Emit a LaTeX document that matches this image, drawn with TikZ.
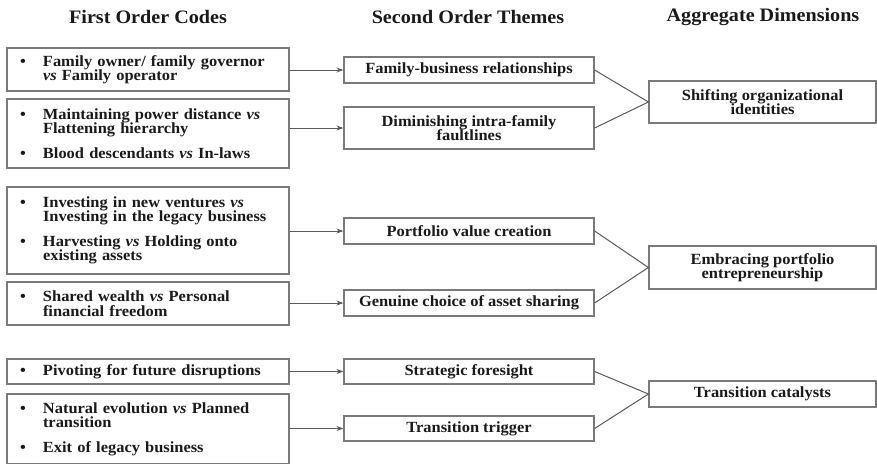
\documentclass[tikz,border=0pt]{standalone}
\usepackage{fontspec}
\setmainfont{Liberation Serif}[FakeStretch=1.06]
\usetikzlibrary{arrows.meta}

\definecolor{framegray}{HTML}{7A7A7A}
\definecolor{linkgray}{HTML}{5A5A5A}
\definecolor{inkblack}{HTML}{1A1A1A}

% one bulleted entry with a hanging indent
\newcommand{\codeitem}[1]{\hangindent=23pt\hangafter=1\noindent\makebox[23pt][l]{\textbullet}#1\par}
\newcommand{\versus}{\textit{vs}}

\begin{document}
\begin{tikzpicture}[x=1pt,y=-1pt,
  bodyfont/.style={font=\fontsize{15.5}{14.5}\selectfont\bfseries},
  header/.style={font=\fontsize{19}{20}\selectfont\bfseries, text=inkblack, inner sep=0pt},
  codebox/.style={draw=framegray, line width=1.2pt, bodyfont, text=inkblack,
    text width=256pt, inner xsep=13pt, inner ysep=0pt, align=left,
    minimum height=#1, execute at begin node={\setlength{\parskip}{10pt}\hyphenpenalty=10000\exhyphenpenalty=10000}},
  themebox/.style={draw=framegray, line width=1.2pt, bodyfont, text=inkblack,
    minimum width=250pt, minimum height=#1, inner sep=0pt, align=center},
  dimbox/.style={draw=framegray, line width=1.2pt, bodyfont, text=inkblack,
    minimum width=227pt, minimum height=#1, inner sep=0pt, align=center},
  feed/.style={draw=linkgray, line width=1pt, -{Stealth[length=7pt,width=5pt,fill=inkblack]}},
  merge/.style={draw=linkgray, line width=1pt}
]
\useasboundingbox[fill=white] (0,0) rectangle (877,463);

% column headings
\node[header] (h1) at (148,17) {First Order Codes};
\node[header] (h2) at (468,17) {Second Order Themes};
\node[header] (h3) at (763,17) {Aggregate Dimensions};

% first order codes
\node[codebox=43pt] (c1) at (148,69.5) {\codeitem{Family owner/ family governor\newline \versus{} Family operator}};
\node[codebox=69pt] (c2) at (148,133.5) {\codeitem{Maintaining power distance \versus\newline Flattening hierarchy}\codeitem{Blood descendants \versus{} In-laws}};
\node[codebox=87pt] (c3) at (148,230.5) {\codeitem{Investing in new ventures \versus\newline Investing in the legacy business}\codeitem{Harvesting \versus{} Holding onto\newline existing assets}};
\node[codebox=43pt] (c4) at (148,303.5) {\codeitem{Shared wealth \versus{} Personal\newline financial freedom}};
\node[codebox=25pt] (c5) at (148,371.5) {\codeitem{Pivoting for future disruptions}};
\node[codebox=70pt] (c6) at (148,429) {\codeitem{Natural evolution \versus{} Planned\newline transition}\codeitem{Exit of legacy business}};

% second order themes
\node[themebox=26pt] (t1) at (469,70) {Family-business relationships};
\node[themebox=42pt] (t2) at (469,128) {Diminishing intra-family\\faultlines};
\node[themebox=26pt] (t3) at (469,231) {Portfolio value creation};
\node[themebox=26pt] (t4) at (469,303) {Genuine choice of asset sharing};
\node[themebox=25pt] (t5) at (469,371.5) {Strategic foresight};
\node[themebox=25pt] (t6) at (469,428.5) {Transition trigger};

% aggregate dimensions
\node[dimbox=42pt] (d1) at (762.5,102) {Shifting organizational\\identities};
\node[dimbox=43pt] (d2) at (762.5,267.5) {Embracing portfolio\\entrepreneurship};
\node[dimbox=26pt] (d3) at (762.5,394) {Transition catalysts};

% codes feed themes
\draw[feed] (c1.east |- t1.west) -- (t1.west);
\draw[feed] (c2.east |- t2.west) -- (t2.west);
\draw[feed] (c3.east |- t3.west) -- (t3.west);
\draw[feed] (c4.east |- t4.west) -- (t4.west);
\draw[feed] (c5.east |- t5.west) -- (t5.west);
\draw[feed] (c6.east |- t6.west) -- (t6.west);

% themes merge into dimensions
\draw[merge] (t1.east) -- (d1.west) -- (t2.east);
\draw[merge] (t3.east) -- (d2.west) -- (t4.east);
\draw[merge] (t5.east) -- (d3.west) -- (t6.east);
\end{tikzpicture}
\end{document}
